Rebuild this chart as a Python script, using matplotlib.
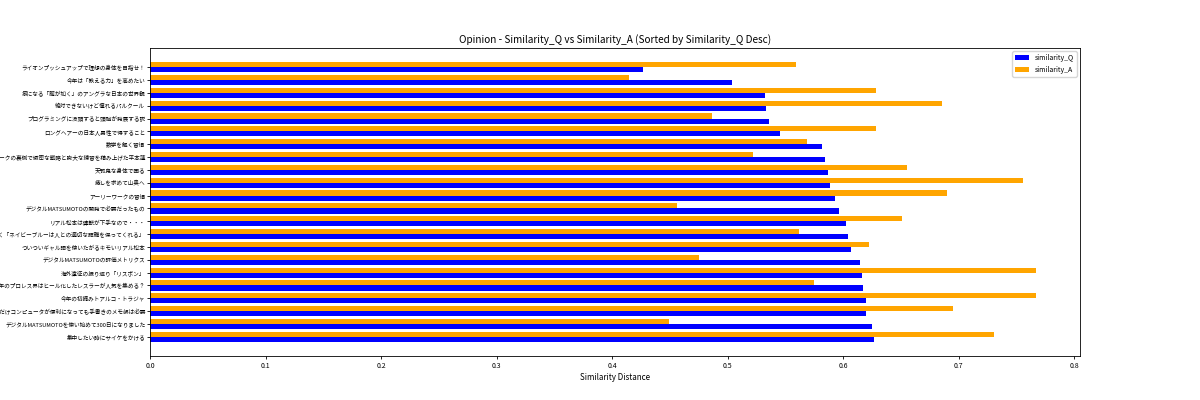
import numpy as np
import matplotlib
matplotlib.use("Agg")
import matplotlib.pyplot as plt

plt.rcParams['font.family'] = ['Noto Sans CJK JP', 'DejaVu Sans']

# sorted by similarity_Q desc (first row ends up at the bottom)
titles = [
    "集中したい時にサイケをかける",
    "デジタルMATSUMOTOを使い始めて300日になりました",
    "どれだけコンピュータが便利になっても手書きのメモ帳は必要",
    "今年の初摘みトアルコ・トラジャ",
    "2024年のプロレス界はヒール化したレスラーが人気を集める？",
    "海外遠征の振り返り「リスボン」",
    "デジタルMATSUMOTOの評価メトリクス",
    "ついついギャル語を使いたがるキモいリアル松本",
    "色彩心理学に基づく「ネイビーブルーは人との適切な距離を保ってくれる」",
    "リアル松本は運転が下手なので・・・",
    "デジタルMATSUMOTOの開発で必要だったもの",
    "アーリーワークの習慣",
    "癒しを求めて山奥へ",
    "天邪鬼な身体で困る",
    "ビッグマウスとトラッシュトークの裏側で緻密な戦略と膨大な練習を積み上げた平本蓮",
    "数学を解く習慣",
    "ロングヘアーの日本人男性で得すること",
    "プログラミングに没頭すると頭脳が発展する説",
    "絶対できないけど憧れるパルクール",
    "癖になる「龍が如く」のアングラな日本の世界観",
    "今年は「教える力」を高めたい",
    "ライオンプッシュアップで理想の身体を目指せ！",
]
similarity_q = [0.6266, 0.6246, 0.6197, 0.6197, 0.6174, 0.6165, 0.6145, 0.6067,
                0.6044, 0.6026, 0.5963, 0.5925, 0.5885, 0.5865, 0.5844, 0.5813,
                0.5455, 0.5357, 0.5333, 0.5325, 0.5036, 0.4263]
similarity_a = [0.7305, 0.4494, 0.6953, 0.7666, 0.5744, 0.7666, 0.4753, 0.6225,
                0.5617, 0.6509, 0.4560, 0.6895, 0.7556, 0.6552, 0.5215, 0.5683,
                0.6286, 0.4866, 0.6855, 0.6286, 0.4145, 0.5590]

y = np.arange(len(titles))
height = 0.4

fig, ax = plt.subplots(figsize=(12, 4), dpi=100)
ax.barh(y, similarity_q, height, label='similarity_Q', color='blue')
ax.barh(y + height, similarity_a, height, label='similarity_A', color='orange')

ax.set_yticks(y + height / 2)
ax.set_yticklabels(titles, fontsize=4.05)
ax.tick_params(axis='x', labelsize=5, pad=2)
ax.tick_params(axis='y', pad=1.2)
ax.tick_params(length=2.2, width=0.6)
ax.set_xlabel('Similarity Distance', fontsize=5.8, labelpad=2)
ax.set_title('Opinion - Similarity_Q vs Similarity_A (Sorted by Similarity_Q Desc)', fontsize=7.2, pad=4)
ax.legend(fontsize=5)
for s in ax.spines.values():
    s.set_linewidth(0.6)

plt.savefig('out.png')
